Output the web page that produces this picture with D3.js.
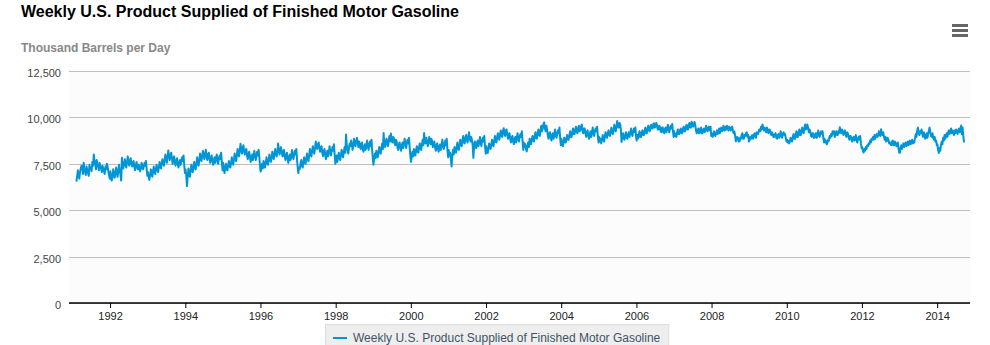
<!DOCTYPE html>
<html>
<head>
<meta charset="utf-8">
<script src="https://cdn.jsdelivr.net/npm/d3@7"></script>
<style>
  html, body { margin: 0; padding: 0; background: #fff; }
  svg { display: block; font-family: "Liberation Sans", Arial, sans-serif; }
</style>
</head>
<body>
<div id="chart"></div>
<script>
var width  = 990;
var height = 345;
var margin = {top: 71, right: 20, bottom: 42, left: 69};

var title      = "Weekly U.S. Product Supplied of Finished Motor Gasoline";
var unitLabel  = "Thousand Barrels per Day";
var seriesName = "Weekly U.S. Product Supplied of Finished Motor Gasoline";

var yTicks = [0, 2500, 5000, 7500, 10000, 12500];

// first and last week of the series
var firstWeek = new Date(1991, 1, 8);
var lastWeek  = new Date(2014, 8, 19);

var years = [1991, 1992, 1993, 1994, 1995, 1996, 1997, 1998, 1999, 2000, 2001, 2002,
             2003, 2004, 2005, 2006, 2007, 2008, 2009, 2010, 2011, 2012, 2013, 2014];

// weekly readings, one row per year (thousand barrels per day)
var weekly = [
  [6540, 6820, 7150, 6880, 6700, 7050, 7250, 7400, 7300, 6950, 7550, 7280, 7050, 6900, 7350, 7150, 7000, 6850, 7450, 7200, 7300, 7100, 7600, 7400, 8000, 7650, 7450, 7200, 7700, 7500, 7350, 7150, 7550, 7350, 7250, 7050, 7400, 7250, 7100, 6950, 7350, 7200, 7500, 7350, 7100, 6900, 6700],
  [7100, 6850, 6600, 6800, 7200, 6950, 6750, 7000, 7300, 7050, 6800, 7100, 7450, 7150, 6900, 6600, 7820, 7400, 7250, 7500, 7750, 7450, 7300, 7600, 7900, 7650, 7400, 7600, 7800, 7500, 7350, 7550, 7650, 7350, 7150, 7400, 7600, 7300, 7200, 7450, 7350, 7100, 7250, 7550, 7400, 7200, 7350, 7550, 7400, 7650, 7200, 6850],
  [7050, 6800, 6630, 6900, 7200, 6950, 6800, 7100, 7350, 7050, 6950, 7250, 7450, 7200, 7050, 7300, 7600, 7350, 7250, 7550, 7750, 7500, 7400, 7700, 8000, 7750, 7550, 7850, 8220, 7950, 7700, 7900, 8100, 7800, 7500, 7700, 7900, 7600, 7400, 7650, 7800, 7500, 7300, 7550, 7700, 7450, 7650, 7850, 7650, 7950, 7400, 7000],
  [7200, 6900, 6300, 6800, 7250, 7000, 6800, 7100, 7450, 7200, 7050, 7350, 7600, 7300, 7200, 7500, 7850, 7550, 7400, 7700, 8050, 7800, 7650, 7950, 8200, 7900, 7750, 8050, 8250, 7900, 7700, 8000, 8100, 7800, 7550, 7750, 7950, 7650, 7450, 7700, 7850, 7550, 7750, 8000, 7700, 7500, 7800, 7950, 7750, 8100, 7600, 7150],
  [7550, 7250, 7000, 7300, 7500, 7200, 7150, 7400, 7650, 7350, 7300, 7550, 7850, 7550, 7450, 7750, 8050, 7750, 7650, 7950, 8300, 8000, 7900, 8200, 8580, 8250, 8050, 8350, 8500, 8150, 8000, 8250, 8300, 7950, 7750, 8000, 8150, 7850, 7600, 7850, 8000, 7700, 7900, 8200, 7950, 7700, 7950, 8150, 7950, 8250, 7800, 7300],
  [7080, 7300, 7500, 7250, 7650, 7400, 7300, 7550, 7850, 7550, 7450, 7700, 8000, 7700, 7600, 7850, 8150, 7850, 7750, 8050, 8300, 8000, 7900, 8150, 8590, 8250, 8000, 8250, 8400, 8100, 7900, 8150, 8250, 7900, 7700, 7950, 8100, 7800, 7550, 7850, 8000, 7700, 7850, 8250, 7950, 7750, 8000, 8200, 8000, 8300, 7700, 7250],
  [7000, 7300, 7230, 7500, 7700, 7400, 7300, 7600, 7850, 7550, 7500, 7800, 8050, 7750, 7650, 7950, 8300, 8000, 7900, 8200, 8450, 8150, 8050, 8350, 8700, 8400, 8300, 8550, 8650, 8350, 8150, 8400, 8450, 8100, 7900, 8150, 8300, 8000, 7750, 8050, 8200, 7900, 8100, 8450, 8150, 7950, 8200, 8400, 8200, 8550, 8000, 7500],
  [7700, 7950, 7600, 7850, 8100, 7800, 7700, 8000, 8250, 7950, 7850, 8150, 8400, 8100, 9080, 8500, 8250, 8050, 8350, 8600, 8450, 8750, 8550, 8250, 8500, 8850, 8600, 8450, 8700, 8900, 8650, 8400, 8700, 8600, 8300, 8500, 8650, 8300, 8150, 8400, 8550, 8250, 8450, 8750, 8450, 8250, 8550, 8700, 8450, 8800, 8200, 7700],
  [7450, 7800, 8050, 7800, 8200, 7950, 7850, 8150, 8400, 8100, 8050, 8350, 8600, 8300, 9160, 8550, 8400, 8700, 8850, 8550, 8450, 8750, 9000, 8700, 9130, 8800, 8650, 8950, 8900, 8600, 8500, 8800, 8700, 8400, 8250, 8550, 8650, 8350, 8200, 8500, 8650, 8350, 8550, 8850, 8550, 8350, 8650, 8800, 8600, 8900, 8300, 7850],
  [7600, 7950, 8150, 7900, 8300, 8050, 7950, 8250, 8450, 8150, 8100, 8400, 8600, 8300, 8250, 8550, 8800, 8500, 9160, 8750, 8600, 8900, 8700, 8450, 8650, 8950, 8700, 8550, 8850, 8700, 8400, 8600, 8700, 8400, 8200, 8500, 8600, 8300, 8150, 8450, 8550, 8250, 8450, 8800, 8500, 8300, 8550, 8750, 8500, 8850, 8250, 7850],
  [8250, 7950, 8100, 7750, 7360, 7950, 8250, 8000, 8400, 8150, 8100, 8400, 8650, 8300, 8250, 8550, 8800, 8500, 8450, 8750, 9000, 8650, 8600, 8900, 9050, 8750, 8650, 8950, 9200, 8850, 8700, 8950, 8800, 8500, 7820, 8450, 8700, 8450, 8350, 8650, 8750, 8450, 8650, 8950, 8650, 8450, 8750, 8900, 8700, 9000, 8450, 8050],
  [8450, 8200, 8080, 8350, 8600, 8350, 8300, 8550, 8800, 8500, 8450, 8750, 9000, 8700, 8650, 8950, 9150, 8850, 8800, 9100, 9300, 9000, 8950, 9250, 9420, 9100, 9000, 9300, 9350, 9050, 8850, 9100, 9150, 8850, 8650, 8900, 9000, 8700, 8550, 8850, 8950, 8650, 8850, 9150, 8850, 8700, 8950, 9100, 8950, 9250, 8700, 8250],
  [8650, 8400, 8550, 8300, 8170, 8450, 8650, 8400, 8850, 8600, 8550, 8850, 9000, 8750, 8700, 9000, 9200, 8900, 8850, 9150, 9350, 9050, 9000, 9300, 9550, 9250, 9400, 9650, 9730, 9400, 9250, 9550, 9350, 9050, 8850, 9100, 9200, 8900, 8750, 9050, 9150, 8850, 9050, 9350, 9050, 8900, 9150, 9300, 9150, 9450, 8900, 8500],
  [8850, 8600, 8440, 8700, 8900, 8650, 8650, 8900, 9050, 8800, 8800, 9050, 9250, 8950, 8950, 9200, 9400, 9100, 9100, 9350, 9500, 9200, 9150, 9400, 9550, 9250, 9300, 9500, 9620, 9300, 9150, 9400, 9400, 9150, 8950, 9200, 9300, 9000, 8850, 9100, 9250, 8950, 9150, 9450, 9150, 9000, 9250, 9400, 9250, 9500, 9000, 8650],
  [8950, 8700, 8850, 8600, 8800, 9050, 8800, 8700, 9000, 9200, 8950, 8900, 9150, 9300, 9050, 9000, 9250, 9450, 9150, 9100, 9350, 9600, 9300, 9250, 9550, 9800, 9500, 9450, 9700, 9650, 9350, 8680, 8950, 9150, 8850, 8800, 9050, 9200, 8900, 8850, 9100, 9200, 8950, 9150, 9400, 9150, 9000, 9250, 9400, 9200, 9450, 8950],
  [8750, 9050, 8860, 9100, 9250, 8950, 8950, 9200, 9300, 9050, 9050, 9300, 9450, 9150, 9150, 9400, 9550, 9300, 9250, 9500, 9600, 9400, 9400, 9650, 9680, 9450, 9500, 9700, 9600, 9350, 9350, 9550, 9500, 9250, 9200, 9450, 9450, 9200, 9150, 9400, 9450, 9200, 9350, 9600, 9350, 9200, 9450, 9550, 9400, 9650, 9250, 8950],
  [9250, 9000, 9100, 8950, 9200, 9350, 9100, 9100, 9300, 9400, 9150, 9150, 9400, 9500, 9250, 9250, 9500, 9600, 9350, 9350, 9600, 9700, 9450, 9450, 9760, 9700, 9500, 9550, 9750, 9600, 9300, 9150, 9300, 9400, 9150, 9150, 9400, 9450, 9150, 9150, 9350, 9400, 9200, 9350, 9550, 9300, 9250, 9450, 9500, 9300, 9500, 9000],
  [9150, 8950, 9020, 9250, 9150, 9000, 9150, 9300, 9100, 9200, 9400, 9150, 9300, 9450, 9250, 9350, 9550, 9300, 9300, 9500, 9350, 9550, 9450, 9300, 9500, 9400, 9300, 9450, 9500, 9300, 9150, 9250, 9050, 8710, 8800, 8950, 8900, 8700, 8700, 8900, 8850, 9050, 9150, 8850, 8850, 9050, 9000, 9150, 9200, 8950, 9050, 8700],
  [8750, 8950, 8850, 9000, 9050, 8850, 8950, 9150, 9050, 8900, 9200, 9100, 9100, 9300, 9350, 9250, 9500, 9350, 9620, 9400, 9300, 9450, 9350, 9200, 9450, 9350, 9150, 9300, 9350, 9200, 9050, 9200, 9100, 8950, 8950, 9100, 9150, 8900, 8850, 9050, 9100, 8900, 9000, 9250, 9050, 8900, 9100, 9200, 9050, 9100, 8900, 8700],
  [8800, 8650, 8750, 8600, 8700, 8900, 8750, 8700, 8950, 9100, 8850, 8850, 9100, 9250, 8950, 8950, 9200, 9350, 9050, 9050, 9300, 9450, 9200, 9150, 9450, 9620, 9350, 9400, 9620, 9450, 9200, 9350, 9250, 9000, 8950, 9150, 9150, 8900, 8900, 9100, 9150, 8900, 9050, 9300, 9050, 8950, 9150, 9250, 9100, 9250, 8900, 8650],
  [8850, 8650, 8750, 8550, 8650, 8800, 8750, 9000, 8900, 9100, 9000, 9250, 9100, 9250, 8950, 9100, 9250, 9050, 9050, 9250, 9150, 9470, 9250, 9150, 9350, 9250, 9050, 9200, 9300, 9100, 8950, 9200, 9150, 8950, 8800, 9000, 9000, 8800, 8700, 8900, 8950, 8750, 8800, 9050, 8800, 8650, 8850, 8950, 8800, 9000, 8600, 8350],
  [8400, 8200, 8110, 8300, 8200, 8400, 8300, 8500, 8450, 8600, 8550, 8750, 8650, 8850, 8800, 8950, 8800, 9050, 8850, 9000, 9100, 8950, 9000, 9250, 9100, 9000, 9360, 9150, 9050, 9200, 8950, 8800, 8950, 8700, 8750, 8900, 8800, 8600, 8650, 8550, 8500, 8700, 8750, 8500, 8500, 8700, 8600, 8450, 8550, 8650, 8300, 8090],
  [8090, 8350, 8500, 8300, 8450, 8600, 8400, 8550, 8650, 8450, 8600, 8700, 8500, 8650, 8750, 8550, 8700, 8800, 8600, 8700, 8650, 8900, 9100, 8950, 9300, 9450, 9150, 9050, 9250, 9150, 9350, 9100, 8950, 9200, 9050, 8850, 9000, 9150, 8900, 9100, 9300, 9450, 9200, 9000, 8950, 9150, 8900, 8800, 8950, 8700, 8750, 8500],
  [8550, 8250, 8080, 8350, 8200, 8500, 8700, 8550, 8900, 8750, 9050, 8850, 9000, 9150, 8950, 9200, 9300, 9100, 9250, 9400, 9150, 9300, 9200, 9050, 9300, 9150, 9350, 9250, 9100, 9300, 9400, 9200, 9350, 9560, 9100, 9450, 9000, 8660]
];

// spread each year's readings across the weeks of that year
var data = [];
years.forEach(function(yr, i) {
    var row = weekly[i];
    var t0 = i === 0 ? firstWeek : new Date(yr, 0, 3);
    var t1 = i === years.length - 1 ? lastWeek : new Date(yr, 11, 29);
    row.forEach(function(v, j) {
        data.push({ date: new Date(+t0 + (t1 - t0) * j / (row.length - 1)), value: v });
    });
});

var svg = d3.select("#chart")
    .append("svg")
    .attr("width", width)
    .attr("height", height);

svg.append("rect")
    .attr("width", width)
    .attr("height", height)
    .attr("fill", "#fff");

var x = d3.scaleTime()
    .domain([new Date(1990, 10, 28), new Date(2014, 10, 16)])
    .range([margin.left, width - margin.right]);

var y = d3.scaleLinear()
    .domain([0, 12500])
    .range([height - margin.bottom, margin.top]);

// plot background
svg.append("rect")
    .attr("x", margin.left)
    .attr("y", margin.top)
    .attr("width", width - margin.right - margin.left)
    .attr("height", height - margin.bottom - margin.top)
    .attr("fill", "#fcfcfc");

// titles
svg.append("text")
    .attr("x", 21)
    .attr("y", 17)
    .attr("font-size", "16px")
    .attr("font-weight", "bold")
    .attr("fill", "#000")
    .text(title);

svg.append("text")
    .attr("x", 21)
    .attr("y", 52)
    .attr("font-size", "12px")
    .attr("font-weight", "bold")
    .attr("fill", "#888")
    .text(unitLabel);

// y grid + labels
var yAxis = d3.axisLeft(y)
    .tickValues(yTicks)
    .tickSize(-(width - margin.right - margin.left))
    .tickPadding(8)
    .tickFormat(d3.format(","));

var gy = svg.append("g")
    .attr("class", "y axis")
    .attr("transform", "translate(" + margin.left + ",0)")
    .call(yAxis);

gy.select(".domain").remove();
gy.selectAll(".tick line")
    .attr("stroke", "#c0c0c0")
    .attr("shape-rendering", "crispEdges");
gy.selectAll(".tick text")
    .attr("font-size", "11px")
    .attr("font-family", "Liberation Sans, Arial, sans-serif")
    .attr("fill", "#444")
    .attr("dy", "0.5em");

// x axis
var xAxis = d3.axisBottom(x)
    .ticks(d3.timeYear.every(2))
    .tickSize(5)
    .tickPadding(4)
    .tickFormat(d3.timeFormat("%Y"));

var gx = svg.append("g")
    .attr("class", "x axis")
    .attr("transform", "translate(0," + (height - margin.bottom) + ")")
    .call(xAxis);

gx.select(".domain")
    .attr("stroke", "#000")
    .attr("stroke-width", 1.5)
    .attr("d", "M" + margin.left + ",0H" + (width - margin.right));
gx.selectAll(".tick line").attr("stroke", "#000");
gx.selectAll(".tick text")
    .attr("font-size", "11px")
    .attr("font-family", "Liberation Sans, Arial, sans-serif")
    .attr("fill", "#222");

// series line
var valueline = d3.line()
    .x(function(d) { return x(d.date); })
    .y(function(d) { return y(d.value); });

svg.append("path")
    .datum(data)
    .attr("d", valueline)
    .attr("fill", "none")
    .attr("stroke", "#0096d6")
    .attr("stroke-width", 2)
    .attr("stroke-linejoin", "round");

// legend
var legend = svg.append("g")
    .attr("transform", "translate(325,324)");

var legendText = legend.append("text")
    .attr("x", 28)
    .attr("y", 18)
    .attr("font-size", "12px")
    .attr("fill", "#3d5468")
    .text(seriesName);

var tw = legendText.node().getComputedTextLength();

legend.insert("rect", "text")
    .attr("x", 0.5)
    .attr("y", 0.5)
    .attr("width", tw + 36)
    .attr("height", 26)
    .attr("fill", "#eee")
    .attr("stroke", "#ddd");

legend.append("line")
    .attr("x1", 8).attr("x2", 22)
    .attr("y1", 14).attr("y2", 14)
    .attr("stroke", "#0096d6")
    .attr("stroke-width", 2);

// export menu icon
var menu = svg.append("g")
    .attr("transform", "translate(952,24)");

menu.selectAll("rect")
    .data([0, 5, 10])
    .enter().append("rect")
    .attr("x", 0)
    .attr("y", function(d) { return d; })
    .attr("width", 16)
    .attr("height", 3)
    .attr("fill", "#666");
</script>
</body>
</html>
